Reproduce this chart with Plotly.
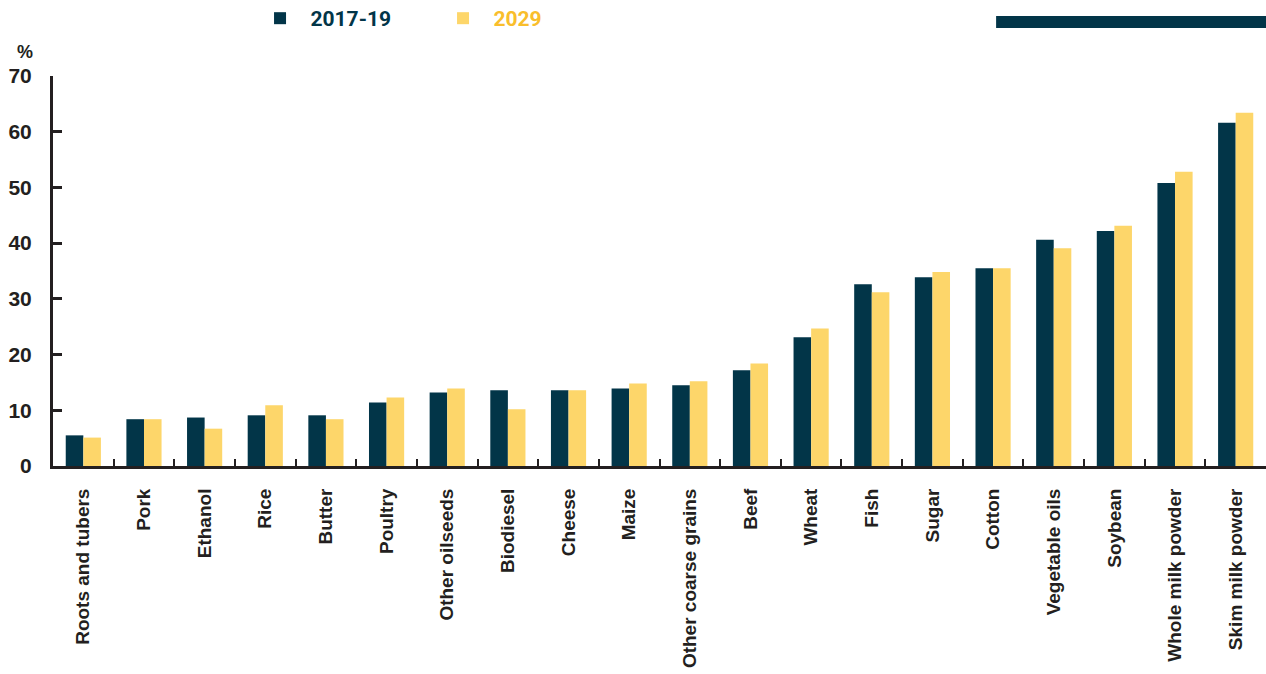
import plotly.graph_objects as go

categories = ["Roots and tubers", "Pork", "Ethanol", "Rice", "Butter", "Poultry",
              "Other oilseeds", "Biodiesel", "Cheese", "Maize", "Other coarse grains",
              "Beef", "Wheat", "Fish", "Sugar", "Cotton", "Vegetable oils", "Soybean",
              "Whole milk powder", "Skim milk powder"]
v_2017_19 = [5.5, 8.4, 8.7, 9.1, 9.1, 11.4, 13.2, 13.6, 13.6, 13.9, 14.5,
             17.2, 23.1, 32.6, 33.9, 35.5, 40.6, 42.2, 50.8, 61.6]
v_2029 = [5.1, 8.4, 6.7, 10.9, 8.4, 12.3, 13.9, 10.2, 13.6, 14.8, 15.2,
          18.4, 24.7, 31.2, 34.8, 35.5, 39.1, 43.1, 52.8, 63.4]
y_ticks = [0, 10, 20, 30, 40, 50, 60, 70]
series_names = ["2017-19", "2029"]

DARK = "#023548"
YELLOW = "#FDD66A"
YELLOW_TXT = "#F9BE2C"
AXIS = "#231F20"
PAD = "\u00a0\u00a0"

fig = go.Figure()
fig.add_trace(go.Bar(x=categories, y=v_2017_19, marker_color=DARK, marker_line_width=0,
                     name=f"<span style='color:{DARK}'>{PAD}{series_names[0]}</span>"))
fig.add_trace(go.Bar(x=categories, y=v_2029, marker_color=YELLOW, marker_line_width=0,
                     name=f"<span style='color:{YELLOW_TXT}'>{PAD}{series_names[1]}</span>"))

fig.update_layout(
    width=1266, height=674,
    margin=dict(l=53, r=0, t=76, b=208, autoexpand=False),
    plot_bgcolor="white", paper_bgcolor="white",
    barmode="group", bargap=0.42, bargroupgap=0,
    showlegend=True,
    legend=dict(orientation="h", xref="container", yref="container",
                x=0.2054, xanchor="left", y=0.9725, yanchor="middle",
                font=dict(family="Roboto", size=21, color=DARK, weight="bold"),
                entrywidth=138, entrywidthmode="pixels", bgcolor="rgba(0,0,0,0)"),
    font=dict(family="Liberation Sans", color=AXIS),
)
fig.update_xaxes(
    type="category", tickangle=-90, showline=True, linewidth=3, linecolor=AXIS,
    ticks="inside", tickson="boundaries", ticklen=7, tickwidth=2, tickcolor=AXIS,
    tickfont=dict(family="Liberation Sans", size=19, color=AXIS, weight="bold"),
    ticklabelstandoff=12, automargin=False,
    showgrid=False, zeroline=False,
)
fig.update_yaxes(
    range=[0, 70], tickvals=y_ticks, showline=True, linewidth=3, linecolor=AXIS,
    ticks="inside", ticklen=9, tickwidth=3, tickcolor=AXIS,
    tickfont=dict(family="Liberation Sans", size=21, color=AXIS, weight="bold"),
    ticklabelstandoff=14, automargin=False,
    showgrid=False, zeroline=False,
)
fig.add_annotation(text="%", xref="paper", yref="paper", x=-0.0231, y=1.0615,
                   xanchor="center", yanchor="middle", showarrow=False,
                   font=dict(family="Liberation Sans", size=18, color=AXIS, weight="bold"))
fig.add_shape(type="rect", xref="paper", yref="paper", x0=0.7775, x1=1.0,
              y0=1.123, y1=1.154, fillcolor=DARK, line_width=0)

fig.write_html("out.html", config={"displayModeBar": False},
               post_script="document.body.style.margin='0';document.body.style.overflow='hidden';")
